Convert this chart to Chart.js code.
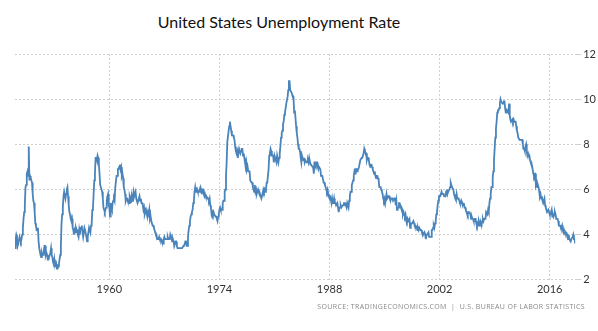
<!DOCTYPE html>
<html><head><meta charset="utf-8">
<script src="https://cdn.jsdelivr.net/npm/chart.js@4/dist/chart.umd.min.js"></script>
<style>
html,body{margin:0;padding:0;background:#fff;width:598px;height:331px;overflow:hidden}
#wrap{position:relative;width:598px;height:331px}
#title{position:absolute;left:0;width:558px;top:12px;text-align:center;font-family:Lato,"Open Sans",sans-serif;font-size:16px;color:#111}
#src{position:absolute;right:13px;top:302px;font-family:"Open Sans",sans-serif;font-size:7px;letter-spacing:0.35px;color:#888}
canvas{position:absolute;left:0;top:0}
</style></head><body>
<div id="wrap">
<div id="title">United States Unemployment Rate</div>
<canvas id="c" width="598" height="331"></canvas>
<div id="src">SOURCE: TRADINGECONOMICS.COM &nbsp;|&nbsp; U.S. BUREAU OF LABOR STATISTICS</div>
</div>
<script>
const startYear = 1948;
const xTickYears = [1960, 1974, 1988, 2002, 2016];
const yTicks = [2, 4, 6, 8, 10, 12];
// Monthly unemployment rate (%), Jan 1948 onward
const unemploymentRate = [
3.4,3.8,4.0,3.9,3.5,3.6,3.6,3.9,3.8,3.7,3.8,4.0,
4.3,4.7,5.0,5.3,6.1,6.2,6.7,6.8,6.6,7.9,6.4,6.6,
6.5,6.4,6.3,5.8,5.5,5.4,5.0,4.5,4.4,4.2,4.2,4.3,
3.7,3.4,3.4,3.1,3.0,3.2,3.1,3.1,3.3,3.5,3.5,3.1,
3.2,3.1,2.9,2.9,3.0,3.0,3.2,3.4,3.1,3.0,2.8,2.7,
2.9,2.6,2.6,2.7,2.5,2.5,2.6,2.7,2.9,3.1,3.5,4.5,
4.9,5.2,5.7,5.9,5.9,5.6,5.8,6.0,6.1,5.7,5.3,5.0,
4.9,4.7,4.6,4.7,4.3,4.2,4.0,4.2,4.1,4.3,4.2,4.2,
4.0,3.9,4.2,4.0,4.3,4.3,4.4,4.1,3.9,3.9,4.3,4.2,
4.2,3.9,3.7,3.9,4.1,4.3,4.2,4.1,4.4,4.5,5.1,5.2,
5.8,6.4,6.7,7.4,7.4,7.3,7.5,7.4,7.1,6.7,6.2,6.2,
6.0,5.9,5.6,5.2,5.1,5.0,5.1,5.2,5.5,5.7,5.8,5.3,
5.2,4.8,5.4,5.2,5.1,5.4,5.5,5.6,5.5,6.1,6.1,6.6,
6.6,6.9,6.9,7.0,7.1,6.9,7.0,6.6,6.7,6.5,6.1,6.0,
5.8,5.5,5.6,5.6,5.5,5.5,5.4,5.7,5.6,5.4,5.7,5.5,
5.7,5.9,5.7,5.7,5.9,5.6,5.6,5.4,5.5,5.5,5.7,5.5,
5.6,5.4,5.4,5.3,5.1,5.2,4.9,5.0,5.1,5.1,4.8,5.0,
4.9,5.1,4.7,4.8,4.6,4.6,4.4,4.4,4.3,4.2,4.1,4.0,
4.0,3.8,3.8,3.8,3.9,3.8,3.8,3.8,3.7,3.7,3.6,3.8,
3.9,3.8,3.8,3.8,3.8,3.9,3.8,3.8,3.8,4.0,3.9,3.8,
3.7,3.8,3.7,3.5,3.5,3.7,3.7,3.5,3.4,3.4,3.4,3.4,
3.4,3.4,3.4,3.4,3.4,3.5,3.5,3.5,3.7,3.7,3.5,3.5,
3.9,4.2,4.4,4.6,4.8,4.9,5.0,5.1,5.4,5.5,5.9,6.1,
5.9,5.9,6.0,5.9,5.9,5.9,6.0,6.1,6.0,5.8,6.0,6.0,
5.8,5.7,5.8,5.7,5.7,5.7,5.6,5.6,5.5,5.6,5.3,5.2,
4.9,5.0,4.9,5.0,4.9,4.9,4.8,4.8,4.8,4.6,4.8,4.9,
5.1,5.2,5.1,5.1,5.1,5.4,5.5,5.5,5.9,6.0,6.6,7.2,
8.1,8.1,8.6,8.8,9.0,8.8,8.6,8.4,8.4,8.4,8.3,8.2,
7.9,7.7,7.6,7.7,7.4,7.6,7.8,7.8,7.6,7.7,7.8,7.8,
7.5,7.6,7.4,7.2,7.0,7.2,6.9,7.0,6.8,6.8,6.8,6.4,
6.4,6.3,6.3,6.1,6.0,5.9,6.2,5.9,6.0,5.8,5.9,6.0,
5.9,5.9,5.8,5.8,5.6,5.7,5.7,6.0,5.9,6.0,5.9,6.0,
6.3,6.3,6.3,6.9,7.5,7.6,7.8,7.7,7.5,7.5,7.5,7.2,
7.5,7.4,7.4,7.2,7.5,7.5,7.2,7.4,7.6,7.9,8.3,8.5,
8.6,8.9,9.0,9.3,9.4,9.6,9.8,9.8,10.1,10.4,10.8,10.8,
10.4,10.4,10.3,10.2,10.1,10.1,9.4,9.5,9.2,8.8,8.5,8.3,
8.0,7.8,7.8,7.7,7.4,7.2,7.5,7.5,7.3,7.4,7.2,7.3,
7.3,7.2,7.2,7.3,7.2,7.4,7.4,7.1,7.1,7.1,7.0,7.0,
6.7,7.2,7.2,7.1,7.2,7.2,7.0,6.9,7.0,7.0,6.9,6.6,
6.6,6.6,6.6,6.3,6.3,6.2,6.1,6.0,5.9,6.0,5.8,5.7,
5.7,5.7,5.7,5.4,5.6,5.4,5.4,5.6,5.4,5.4,5.3,5.3,
5.4,5.2,5.0,5.2,5.2,5.3,5.2,5.2,5.3,5.3,5.4,5.4,
5.4,5.3,5.2,5.4,5.4,5.2,5.5,5.7,5.9,5.9,6.2,6.3,
6.4,6.6,6.8,6.7,6.9,6.9,6.8,6.9,6.9,7.0,7.0,7.3,
7.3,7.4,7.4,7.4,7.6,7.8,7.7,7.6,7.6,7.3,7.4,7.4,
7.3,7.1,7.0,7.1,7.1,7.0,6.9,6.8,6.7,6.8,6.6,6.5,
6.6,6.6,6.5,6.4,6.1,6.1,6.1,6.0,5.9,5.8,5.6,5.5,
5.6,5.4,5.4,5.8,5.6,5.6,5.7,5.7,5.6,5.5,5.6,5.6,
5.6,5.5,5.5,5.6,5.6,5.3,5.5,5.1,5.2,5.2,5.4,5.4,
5.3,5.2,5.2,5.1,4.9,5.0,4.9,4.8,4.9,4.7,4.6,4.7,
4.6,4.6,4.7,4.3,4.4,4.5,4.5,4.5,4.6,4.5,4.4,4.4,
4.3,4.4,4.2,4.3,4.2,4.3,4.3,4.2,4.2,4.1,4.1,4.0,
4.0,4.1,4.0,3.8,4.0,4.0,4.0,4.1,3.9,3.9,3.9,3.9,
4.2,4.2,4.3,4.4,4.3,4.5,4.6,4.9,5.0,5.3,5.5,5.7,
5.7,5.7,5.7,5.9,5.8,5.8,5.8,5.7,5.7,5.7,5.9,6.0,
5.8,5.9,5.9,6.0,6.1,6.3,6.2,6.1,6.1,6.0,5.8,5.7,
5.7,5.6,5.8,5.6,5.6,5.6,5.5,5.4,5.4,5.5,5.4,5.4,
5.3,5.4,5.2,5.2,5.1,5.0,5.0,4.9,5.0,5.0,5.0,4.9,
4.7,4.8,4.7,4.7,4.6,4.6,4.7,4.7,4.5,4.4,4.5,4.4,
4.6,4.5,4.4,4.5,4.4,4.6,4.7,4.6,4.7,4.7,4.7,5.0,
5.0,4.9,5.1,5.0,5.4,5.6,5.8,6.1,6.1,6.5,6.8,7.3,
7.8,8.3,8.7,9.0,9.4,9.5,9.5,9.6,9.8,10.0,9.9,9.9,
9.8,9.8,9.9,9.9,9.6,9.4,9.4,9.5,9.5,9.4,9.8,9.3,
9.1,9.0,9.0,9.1,9.0,9.1,9.0,9.0,9.0,8.8,8.6,8.5,
8.3,8.3,8.2,8.2,8.2,8.2,8.2,8.0,7.8,7.8,7.7,7.9,
8.0,7.7,7.5,7.6,7.5,7.5,7.3,7.2,7.2,7.2,6.9,6.7,
6.6,6.7,6.7,6.2,6.3,6.1,6.2,6.1,5.9,5.7,5.8,5.6,
5.7,5.5,5.4,5.4,5.6,5.3,5.2,5.1,5.0,5.0,5.1,5.0,
4.9,4.9,5.0,5.1,4.8,4.9,4.8,4.9,5.0,4.9,4.7,4.7,
4.7,4.6,4.4,4.4,4.4,4.3,4.3,4.4,4.2,4.1,4.2,4.1,
4.1,4.1,4.0,4.0,3.8,4.0,3.8,3.8,3.7,3.8,3.8,3.9,
4.0,3.8,3.8,3.6
];
const points = unemploymentRate.map((v, i) => ({x: startYear + i / 12, y: v}));
const lastX = startYear + (unemploymentRate.length - 1) / 12;

new Chart(document.getElementById('c'), {
  type: 'line',
  data: { datasets: [{ data: points, borderColor: '#4a84ba', borderWidth: 1.8, pointRadius: 0, tension: 0, fill: false }] },
  options: {
    responsive: false, animation: false,
    layout: { padding: { left: 15, top: 54, right: 0, bottom: 32 } },
    plugins: { legend: { display: false }, tooltip: { enabled: false } },
    scales: {
      x: {
        type: 'linear', min: startYear, max: lastX,
        afterBuildTicks: s => { s.ticks = xTickYears.map(v => ({value: v})); },
        grid: { color: '#d0d0d0', drawTicks: false, lineWidth: 1 },
        border: { display: false, dash: [2, 2] },
        ticks: { color: '#333', font: { family: 'Lato', size: 11 }, padding: 3, callback: v => String(v), maxRotation: 0 }
      },
      y: {
        position: 'right', min: 2, max: 12,
        afterBuildTicks: s => { s.ticks = yTicks.map(v => ({value: v})); },
        grid: { color: '#d0d0d0', drawTicks: true, tickLength: 6, lineWidth: 1 },
        border: { display: false, dash: [2, 2] },
        ticks: { color: '#333', font: { family: 'Lato', size: 11 }, padding: 2 }
      }
    }
  }
});
</script>
</body></html>
